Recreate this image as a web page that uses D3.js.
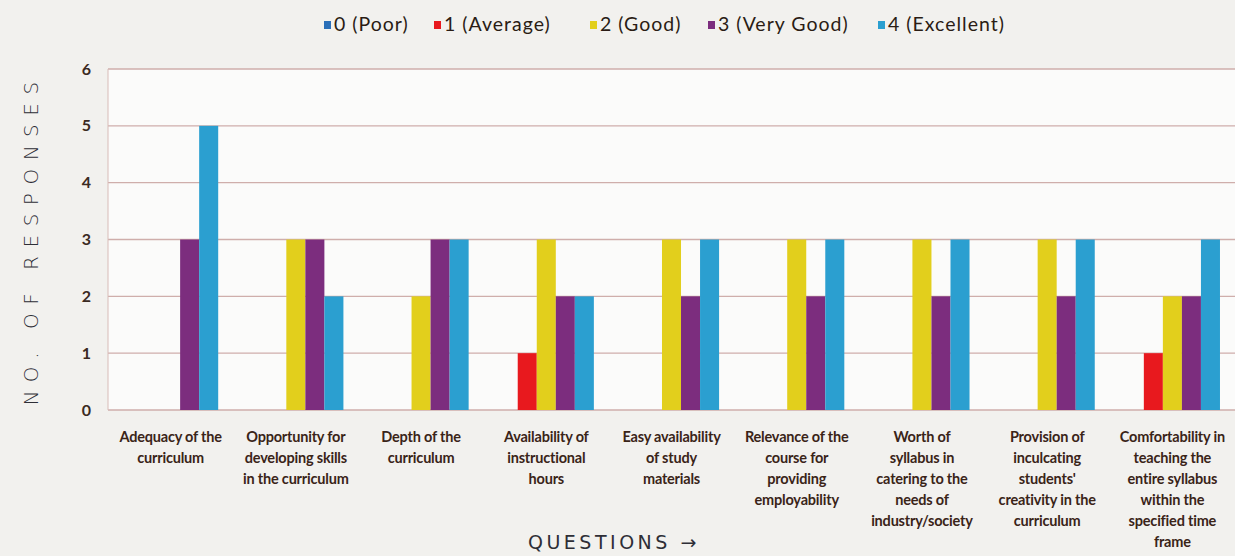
<!DOCTYPE html>
<html>
<head>
<meta charset="utf-8">
<script src="https://cdn.jsdelivr.net/npm/d3@7"></script>
<style>
  body { margin: 0; background: #f2f1ee; }
  svg { display: block; }
</style>
</head>
<body>
<div id="chart"></div>
<script>
// chart data
var questions = [
  ["Adequacy of the", "curriculum"],
  ["Opportunity for", "developing skills", "in the curriculum"],
  ["Depth of the", "curriculum"],
  ["Availability of", "instructional", "hours"],
  ["Easy availability", "of study", "materials"],
  ["Relevance of the", "course for", "providing", "employability"],
  ["Worth of", "syllabus in", "catering to the", "needs of", "industry/society"],
  ["Provision of", "inculcating", "students'", "creativity in the", "curriculum"],
  ["Comfortability in", "teaching the", "entire syllabus", "within the", "specified time", "frame"]
];
var seriesNames = ["0 (Poor)", "1 (Average)", "2 (Good)", "3 (Very Good)", "4 (Excellent)"];
var poor      = [0, 0, 0, 0, 0, 0, 0, 0, 0];
var average   = [0, 0, 0, 1, 0, 0, 0, 0, 1];
var good      = [0, 3, 2, 3, 3, 3, 3, 3, 2];
var veryGood  = [3, 3, 3, 2, 2, 2, 2, 2, 2];
var excellent = [5, 2, 3, 2, 3, 3, 3, 3, 3];
var yTicks = [0, 1, 2, 3, 4, 5, 6];

var seriesValues = [poor, average, good, veryGood, excellent];
var colors = ["#2a6fb8", "#e8191e", "#e2cf1c", "#7c2d7e", "#2b9fd0"];

var W = 1235, H = 556;
var margin = {top: 69, right: 0, bottom: 146, left: 108},
    width = W - margin.left - margin.right,
    height = H - margin.top - margin.bottom;

var svg = d3.select("#chart")
  .append("svg")
    .attr("width", W)
    .attr("height", H);

var g = svg.append("g")
    .attr("transform", "translate(" + margin.left + "," + margin.top + ")");

var x0 = d3.scaleBand()
  .domain(d3.range(questions.length))
  .range([0, width])
  .paddingInner(0.24)
  .paddingOuter(0.12);

var x1 = d3.scaleBand()
  .domain(d3.range(seriesNames.length))
  .range([0, x0.bandwidth()]);

var y = d3.scaleLinear()
  .domain([0, 6])
  .range([height, 0]);

// plot background
g.append("rect")
  .attr("width", width)
  .attr("height", height)
  .attr("fill", "#fbfbfa");

// gridlines
g.append("g")
  .selectAll("line")
  .data(yTicks)
  .enter()
  .append("line")
    .attr("x1", 0)
    .attr("x2", width)
    .attr("y1", function (d) { return y(d); })
    .attr("y2", function (d) { return y(d); })
    .attr("stroke", "#cfaeab")
    .attr("stroke-width", 1.3);

g.append("line")
  .attr("x1", 0).attr("x2", 0)
  .attr("y1", 0).attr("y2", height)
  .attr("stroke", "#d9bcb8");

// Y axis
var yAxis = g.append("g")
  .call(d3.axisLeft(y).tickValues(yTicks).tickSize(0).tickPadding(17).tickFormat(d3.format("d")));
yAxis.select(".domain").remove();
yAxis.selectAll("text")
  .attr("font-family", "Lato, 'Open Sans', sans-serif")
  .attr("font-weight", "bold")
  .attr("font-size", 16)
  .attr("fill", "#3b2a22");

// bars
var groups = g.append("g")
  .selectAll("g")
  .data(questions)
  .enter()
  .append("g")
    .attr("transform", function (d, i) { return "translate(" + x0(i) + ",0)"; });

groups.selectAll("rect")
  .data(function (d, i) { return seriesValues.map(function (s, k) { return {k: k, v: s[i]}; }); })
  .enter()
  .append("rect")
    .attr("x", function (d) { return x1(d.k); })
    .attr("width", x1.bandwidth())
    .attr("y", function (d) { return y(d.v); })
    .attr("height", function (d) { return height - y(d.v); })
    .attr("fill", function (d) { return colors[d.k]; });

// category labels
var labels = g.append("g")
  .selectAll("text")
  .data(questions)
  .enter()
  .append("text")
    .attr("x", function (d, i) { return x0(i) + x0.bandwidth() / 2; })
    .attr("y", height + 32)
    .attr("text-anchor", "middle")
    .attr("font-family", "Lato, 'Open Sans', sans-serif")
    .attr("font-weight", "bold")
    .attr("font-size", 14.5)
    .attr("letter-spacing", "-0.2")
    .attr("fill", "#3a2418");

labels.selectAll("tspan")
  .data(function (d) { return d; })
  .enter()
  .append("tspan")
    .attr("x", function () { return d3.select(this.parentNode).attr("x"); })
    .attr("dy", function (d, i) { return i === 0 ? 0 : 21; })
    .text(function (d) { return d; });

// legend
var legendX = [324, 434, 590, 708, 878];
var legend = svg.append("g")
  .selectAll("g")
  .data(seriesNames)
  .enter()
  .append("g")
    .attr("transform", function (d, i) { return "translate(" + legendX[i] + ",17)"; });

legend.append("rect")
  .attr("width", 7)
  .attr("height", 8)
  .attr("y", 4)
  .attr("fill", function (d, i) { return colors[i]; });

legend.append("text")
  .attr("x", 10)
  .attr("y", 14)
  .attr("font-family", "Lato, 'Open Sans', sans-serif")
  .attr("font-size", 19.5)
  .attr("letter-spacing", "1")
  .attr("fill", "#2a1c14")
  .text(function (d) { return d; });

// hand-written axis titles
svg.append("text")
  .attr("transform", "translate(38," + (margin.top + height / 2) + ") rotate(-90)")
  .attr("text-anchor", "middle")
  .attr("font-family", "'DejaVu Sans', sans-serif")
  .attr("font-weight", "200")
  .attr("font-size", 20)
  .attr("letter-spacing", "8.5")
  .attr("fill", "#2e2e36")
  .text("NO. OF RESPONSES");

svg.append("text")
  .attr("x", 528)
  .attr("y", 549)
  .attr("font-family", "'DejaVu Sans', sans-serif")
  .attr("font-size", 19)
  .attr("letter-spacing", "3.5")
  .attr("fill", "#2e2e36")
  .text("QUESTIONS \u2192");
</script>
</body>
</html>
